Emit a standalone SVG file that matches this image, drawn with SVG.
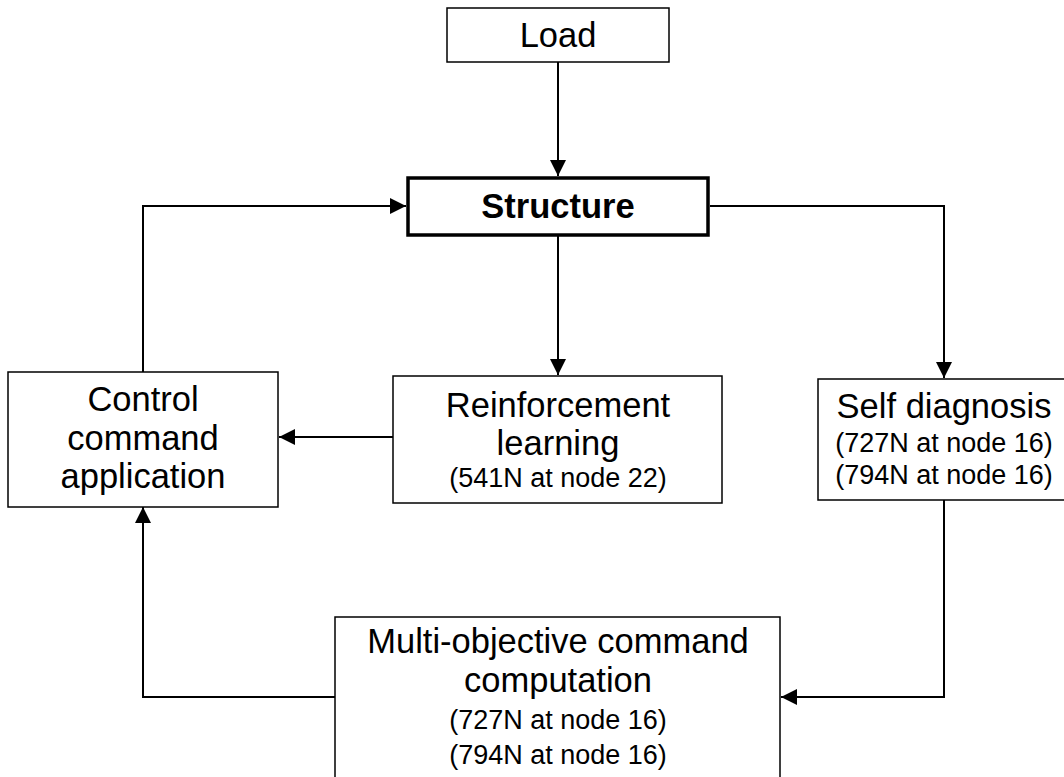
<svg xmlns="http://www.w3.org/2000/svg" width="1064" height="777" viewBox="0 0 1064 777">
<style>
.box{fill:#fff;stroke:#000;stroke-width:1.5}
.bold{fill:#fff;stroke:#000;stroke-width:3.5}
text{font-family:"Liberation Sans",Arial,sans-serif;fill:#000;text-anchor:middle}
.t{font-size:34.5px}
.s{font-size:27px}
.c{fill:none;stroke:#000;stroke-width:2}
</style>
<defs>
<marker id="ah" viewBox="0 0 10 10" refX="10" refY="5" markerWidth="17" markerHeight="16" markerUnits="userSpaceOnUse" orient="auto">
<path d="M0,0 L10,5 L0,10 z" fill="#000"/>
</marker>
</defs>
<g id="connectors">
<path class="c" d="M558,62 V176" marker-end="url(#ah)"/>
<path class="c" d="M558,236 V375" marker-end="url(#ah)"/>
<path class="c" d="M143,372 V206 H406" marker-end="url(#ah)"/>
<path class="c" d="M710,206 H944 V378" marker-end="url(#ah)"/>
<path class="c" d="M393,437 H279" marker-end="url(#ah)"/>
<path class="c" d="M944,500 V697 H781" marker-end="url(#ah)"/>
<path class="c" d="M335,697 H143 V507" marker-end="url(#ah)"/>
</g>
<g id="load">
<rect class="box" x="447" y="8" width="222" height="54"/>
<text class="t" x="558" y="47">Load</text>
</g>
<g id="structure">
<rect class="bold" x="408" y="178" width="300" height="57"/>
<text class="t" x="558" y="218" font-weight="bold">Structure</text>
</g>
<g id="control">
<rect class="box" x="8" y="372" width="270" height="135"/>
<text class="t" x="143" y="411">Control</text>
<text class="t" x="143" y="450">command</text>
<text class="t" x="143" y="488">application</text>
</g>
<g id="reinforcement">
<rect class="box" x="393" y="376" width="329" height="127"/>
<text class="t" x="558" y="417">Reinforcement</text>
<text class="t" x="558" y="455">learning</text>
<text class="s" x="558" y="487">(541N at node 22)</text>
</g>
<g id="selfdiag">
<rect class="box" x="818" y="379" width="260" height="121"/>
<text class="t" x="944" y="418">Self diagnosis</text>
<text class="s" x="944" y="452">(727N at node 16)</text>
<text class="s" x="944" y="484">(794N at node 16)</text>
</g>
<g id="multi">
<rect class="box" x="335" y="617" width="445" height="170"/>
<text class="t" x="558" y="653">Multi-objective command</text>
<text class="t" x="558" y="692">computation</text>
<text class="s" x="558" y="729">(727N at node 16)</text>
<text class="s" x="558" y="764">(794N at node 16)</text>
</g>
</svg>
